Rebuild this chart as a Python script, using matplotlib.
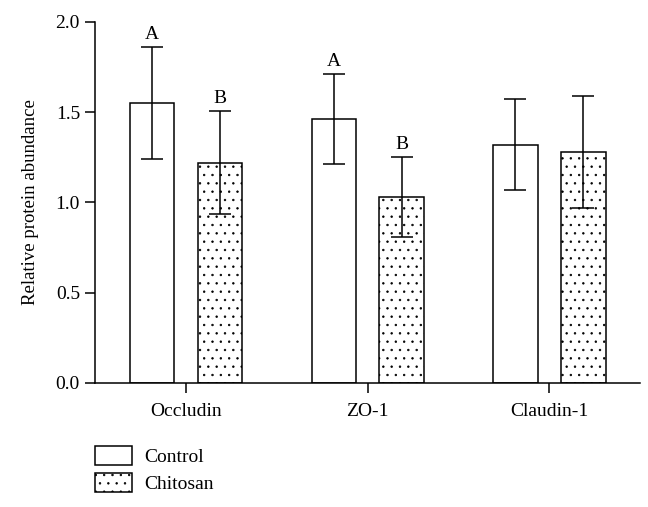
"""
Relative protein abundance of tight-junction proteins, Control vs. Chitosan.
"""

import numpy as np
import matplotlib
matplotlib.use("Agg")
import matplotlib.pyplot as plt
from matplotlib.patches import Patch

proteins = ["Occludin", "ZO-1", "Claudin-1"]
control = [1.55, 1.46, 1.32]
control_err = [0.31, 0.25, 0.25]
chitosan = [1.22, 1.03, 1.28]
chitosan_err = [0.285, 0.22, 0.31]
control_letters = ["A", "A", ""]
chitosan_letters = ["B", "B", ""]

plt.rcParams["font.family"] = ["Liberation Serif", "DejaVu Serif"]
plt.rcParams["hatch.linewidth"] = 0.5


def plot():
    fig = plt.figure(figsize=(6.48, 5.07), dpi=100)
    ax = fig.add_axes([0.147, 0.245, 0.841, 0.712])

    x = np.arange(len(proteins))
    w = 0.245
    off = 0.187

    err_kw = dict(ecolor="black", elinewidth=1.1, capsize=8, capthick=1.1)
    ax.bar(x - off, control, w, yerr=control_err, color="white",
           edgecolor="black", linewidth=1.1, error_kw=err_kw, zorder=2)
    ax.bar(x + off, chitosan, w, yerr=chitosan_err, color="white",
           edgecolor="black", linewidth=1.1, hatch="..", error_kw=err_kw, zorder=2)

    for i in range(len(proteins)):
        if control_letters[i]:
            ax.annotate(control_letters[i], (x[i] - off, control[i] + control_err[i]),
                        xytext=(0, 3), textcoords="offset points",
                        ha="center", va="bottom", fontsize=14)
        if chitosan_letters[i]:
            ax.annotate(chitosan_letters[i], (x[i] + off, chitosan[i] + chitosan_err[i]),
                        xytext=(0, 3), textcoords="offset points",
                        ha="center", va="bottom", fontsize=14)

    ax.set_xlim(-0.5, 2.5)
    ax.set_ylim(0, 2.0)
    ax.set_yticks([0.0, 0.5, 1.0, 1.5, 2.0])
    ax.set_yticklabels(["0.0", "0.5", "1.0", "1.5", "2.0"])
    ax.set_xticks(x)
    ax.set_xticklabels(proteins)
    ax.tick_params(axis="both", labelsize=14, width=1.1, length=7.5, direction="out")
    ax.tick_params(axis="x", pad=7)
    ax.set_ylabel("Relative protein abundance", fontsize=13.5, labelpad=12)

    for s in ["top", "right"]:
        ax.spines[s].set_visible(False)
    for s in ["left", "bottom"]:
        ax.spines[s].set_linewidth(1.1)

    handles = [
        Patch(facecolor="white", edgecolor="black", linewidth=1.1, label="Control"),
        Patch(facecolor="white", edgecolor="black", linewidth=1.1, hatch="..", label="Chitosan"),
    ]
    fig.legend(handles=handles, loc="upper left", bbox_to_anchor=(0.135, 0.135),
               frameon=False, fontsize=14, handlelength=1.9, handleheight=1.1,
               labelspacing=0.35, handletextpad=0.6, borderaxespad=0)

    fig.savefig("out.png", dpi=100)


if __name__ == "__main__":
    plot()
